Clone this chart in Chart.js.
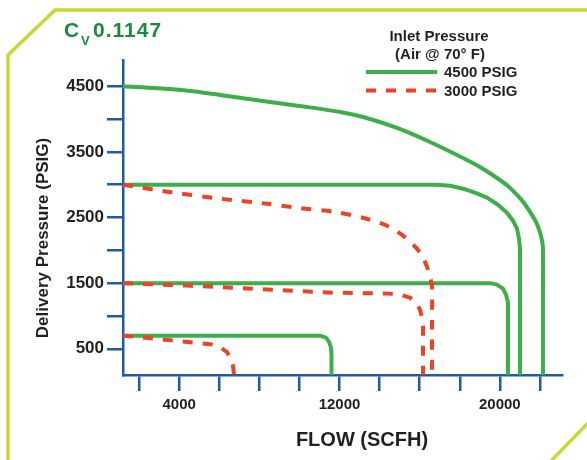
<!DOCTYPE html>
<html>
<head>
<meta charset="utf-8">
<script src="https://cdn.jsdelivr.net/npm/chart.js@4.4.1/dist/chart.umd.min.js"></script>
<style>
  html, body { margin: 0; padding: 0; background: #fff; }
  #wrap { width: 587px; height: 460px; position: relative; }
</style>
</head>
<body>
<div id="wrap"><canvas id="flowChart"></canvas></div>
<script>
// values (flow in SCFH, delivery pressure in PSIG)
// 4500 PSIG inlet
var flow45a = [1200, 3545, 4790, 6040, 8530, 10380, 12025, 13170, 14870, 16515, 18160, 19010, 19855, 20405, 20855, 21205, 21505, 21805, 22000, 22100, 22150, 22150, 22150]
var pres45a = [4500, 4458, 4420, 4367, 4260, 4184, 4108, 4031, 3864, 3650, 3407, 3269, 3102, 2980, 2843, 2721, 2584, 2431, 2279, 2157, 2036, 1200, 100]
var flow45b = [1200, 16860, 17510, 18160, 18760, 19360, 19905, 20355, 20655, 20855, 20955, 21005, 21005]
var pres45b = [3000, 3000, 2985, 2939, 2878, 2802, 2695, 2573, 2451, 2330, 2177, 2025, 100]
var flow45c = [1200, 19510, 19855, 20155, 20305, 20405, 20405]
var pres45c = [1500, 1500, 1477, 1416, 1325, 1203, 100]
var flow45d = [1200, 11025, 11325, 11475, 11575, 11600, 11600]
var pres45d = [700, 700, 670, 609, 517, 395, 100]
// 3000 PSIG inlet
var flow30a = [1200, 3395, 6040, 8385, 10030, 11675, 13170, 14370, 15170, 15865, 16165, 16365, 16515, 16615, 16615, 16615]
var pres30a = [3000, 2893, 2787, 2710, 2642, 2589, 2497, 2375, 2223, 2025, 1888, 1751, 1598, 1430, 900, 100]
var flow30b = [1200, 4395, 7685, 11675, 14520, 15120, 15515, 15815, 16015, 16115, 16165, 16165]
var pres30b = [1500, 1462, 1416, 1355, 1340, 1317, 1279, 1203, 1096, 974, 837, 100]
var flow30c = [1200, 3545, 5540, 6040, 6390, 6590, 6690, 6740]
var pres30c = [700, 631, 570, 525, 449, 342, 235, 100]

var xTicks = [2000, 4000, 6000, 8000, 10000, 12000, 14000, 16000, 18000, 20000, 22000]
var xLabels = [4000, 12000, 20000]
var yTicks = [500, 1000, 1500, 2000, 2500, 3000, 3500, 4000, 4500]
var yLabels = [500, 1500, 2500, 3500, 4500]
var legendNames = ['4500 PSIG', '3000 PSIG']

var green = '#3dae49'
var red = '#ee4126'
var blue = '#1f5ba8'
var ink = '#231f20'
var fontName = "'Liberation Sans', Arial, sans-serif"

function pts(xs, ys) {
    return xs.map(function(x, i) { return {x: x, y: ys[i]} })
}

function curve(xs, ys, color, dashed, smooth) {
    return {
        data: pts(xs, ys),
        borderColor: color,
        borderWidth: 4,
        borderDash: dashed ? [10, 10] : [],
        borderJoinStyle: 'round',
        showLine: true,
        pointRadius: 0,
        tension: smooth || 0,
        order: dashed ? 0 : 1,
        fill: false
    }
}

// frame, title, legend and axis titles
var decor = {
    id: 'decor',
    beforeDraw: function(chart) {
        var ctx = chart.ctx
        ctx.save()
        ctx.strokeStyle = '#c6da35'
        ctx.lineWidth = 3.5
        ctx.beginPath()
        ctx.moveTo(8, 465); ctx.lineTo(8, 55); ctx.lineTo(55, 10); ctx.lineTo(592, 10)
        ctx.stroke()
        ctx.beginPath()
        ctx.moveTo(592, 419); ctx.lineTo(549, 463)
        ctx.stroke()
        ctx.restore()
    },
    afterDraw: function(chart) {
        var ctx = chart.ctx
        ctx.save()
        // title
        ctx.fillStyle = '#1c8a3c'
        ctx.textBaseline = 'alphabetic'
        ctx.textAlign = 'left'
        ctx.font = 'bold 21px ' + fontName
        ctx.fillText('C', 64, 37)
        ctx.font = 'bold 13px ' + fontName
        ctx.fillText('V', 81, 45)
        ctx.font = 'bold 21px ' + fontName
        ctx.letterSpacing = '1px'
        ctx.fillText('0.1147', 93, 37)
        ctx.letterSpacing = '0px'

        // legend
        ctx.fillStyle = ink
        ctx.textAlign = 'center'
        ctx.textBaseline = 'middle'
        ctx.font = 'bold 15px ' + fontName
        ctx.fillText('Inlet Pressure', 439, 37)
        ctx.fillText('(Air @ 70° F)', 440, 55)
        var colors = [green, red]
        legendNames.forEach(function(name, i) {
            var y = 72 + i * 18.5
            ctx.strokeStyle = colors[i]
            ctx.lineWidth = 4
            ctx.setLineDash(i === 1 ? [10, 10] : [])
            ctx.beginPath()
            ctx.moveTo(366, y); ctx.lineTo(437, y)
            ctx.stroke()
            ctx.setLineDash([])
            ctx.textAlign = 'left'
            ctx.fillText(name, 444, y + 1)
        })

        // axis titles
        ctx.textAlign = 'center'
        ctx.font = 'bold 20px ' + fontName
        ctx.fillText('FLOW (SCFH)', 362, 440)
        ctx.translate(43, 238)
        ctx.rotate(-Math.PI / 2)
        ctx.font = 'bold 17px ' + fontName
        ctx.fillText('Delivery Pressure (PSIG)', 0, 0)
        ctx.restore()
    }
}

var ctx = document.getElementById('flowChart').getContext('2d')
var myChart = new Chart(ctx, {
    type: 'scatter',
    data: {
        datasets: [
            curve(flow30a, pres30a, red, true, 0.25),
            curve(flow30b, pres30b, red, true),
            curve(flow30c, pres30c, red, true),
            curve(flow45a, pres45a, green, false, 0.25),
            curve(flow45b, pres45b, green, false),
            curve(flow45c, pres45c, green, false),
            curve(flow45d, pres45d, green, false)
        ]
    },
    options: {
        responsive: true,
        maintainAspectRatio: false,
        animation: false,
        layout: { padding: { top: 60, right: 25, left: 0, bottom: 0 } },
        plugins: {
            legend: { display: false },
            tooltip: { enabled: false }
        },
        scales: {
            x: {
                type: 'linear',
                min: 1200,
                max: 23100,
                afterFit: function(scale) { scale.height = 85 },
                afterBuildTicks: function(scale) {
                    scale.ticks = xTicks.map(function(v) { return {value: v} })
                },
                border: { color: blue, width: 2.5 },
                grid: { drawOnChartArea: false, drawTicks: true, tickLength: 16, color: blue, lineWidth: 2.5 },
                ticks: {
                    autoSkip: false,
                    maxRotation: 0,
                    padding: 5,
                    color: ink,
                    font: { family: fontName, size: 15, weight: 'bold' },
                    callback: function(v) { return xLabels.indexOf(v) >= 0 ? String(v) : '' }
                }
            },
            y: {
                type: 'linear',
                min: 100,
                max: 4900,
                afterFit: function(scale) { scale.width = 123 },
                afterBuildTicks: function(scale) {
                    scale.ticks = yTicks.map(function(v) { return {value: v} })
                },
                border: { color: blue, width: 2.5 },
                grid: { drawOnChartArea: false, drawTicks: true, tickLength: 16, color: blue, lineWidth: 2.5 },
                ticks: {
                    autoSkip: false,
                    padding: 3,
                    color: ink,
                    font: { family: fontName, size: 17, weight: 'bold' },
                    callback: function(v) { return yLabels.indexOf(v) >= 0 ? String(v) : '' }
                }
            }
        }
    },
    plugins: [decor]
})
</script>
</body>
</html>
